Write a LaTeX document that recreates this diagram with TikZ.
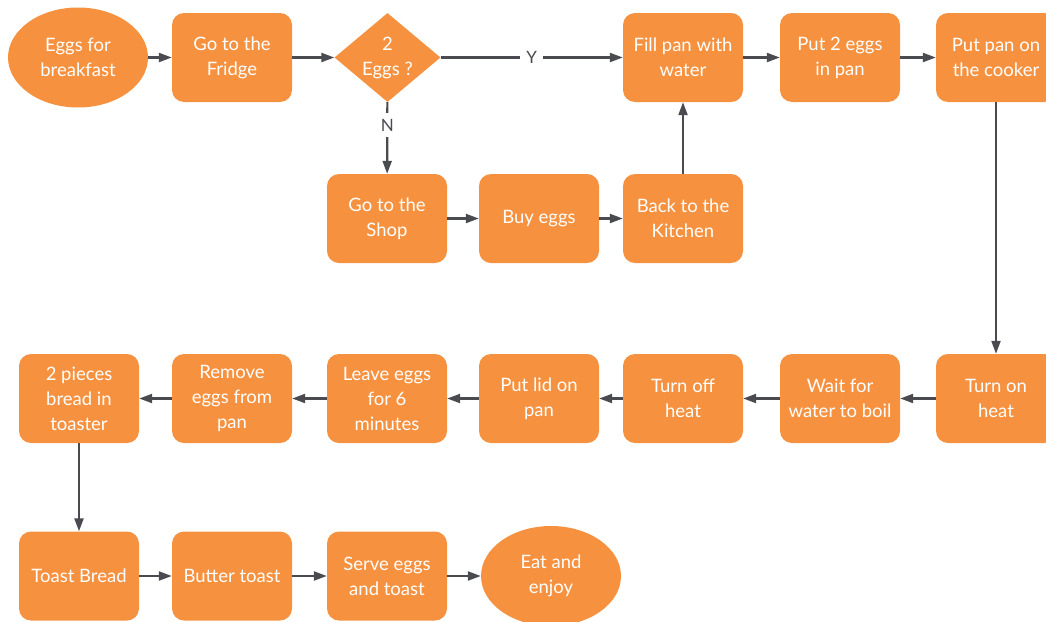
\documentclass[tikz,border=0pt]{standalone}
\usepackage{fontspec}
\setmainfont{Lato}
\usetikzlibrary{shapes.geometric,arrows.meta}
\definecolor{eggorange}{HTML}{F6913F}
\definecolor{linegrey}{HTML}{4A4B50}

\begin{document}
\begin{tikzpicture}[x=1pt,y=-1pt,
	box/.style={rectangle,rounded corners=12pt,fill=eggorange,minimum width=120pt,minimum height=89pt,inner sep=0pt,text=white,align=center,font=\fontsize{18.5}{25}\selectfont},
	terminal/.style={ellipse,fill=eggorange,minimum width=140pt,minimum height=100pt,inner sep=0pt,text=white,align=center,font=\fontsize{18.5}{25}\selectfont},
	decision/.style={diamond,fill=eggorange,minimum width=106pt,minimum height=89pt,inner sep=-8pt,text=white,align=center,font=\fontsize{18.5}{25}\selectfont},
	flow/.style={draw=linegrey,line width=2.2pt,-{Triangle[length=13pt,width=9pt]}},
	answer/.style={fill=white,text=linegrey,inner sep=6pt,font=\fontsize{17}{20}\selectfont}]
	\useasboundingbox (0,0) rectangle (1046,621);
	\node [terminal] (start) at (78,57.5) {Eggs for\\breakfast};
	\node [box] (fridge) at (232,57.5) {Go to the\\Fridge};
	\node [decision] (twoEggs) at (387.5,57.5) {2\\Eggs ?};
	\node [box] (fillPan) at (683,57.5) {Fill pan with\\water};
	\node [box] (putEggs) at (840,57.5) {Put 2 eggs\\in pan};
	\node [box] (putPan) at (996,57.5) {Put pan on\\the cooker};
	\node [box] (shop) at (387,218.5) {Go to the\\Shop};
	\node [box] (buyEggs) at (539,218.5) {Buy eggs};
	\node [box] (kitchen) at (683,218.5) {Back to the\\Kitchen};
	\node [box] (turnOn) at (996,398.5) {Turn on\\heat};
	\node [box] (waitBoil) at (840,398.5) {Wait for\\water to boil};
	\node [box] (turnOff) at (683,398.5) {Turn off\\heat};
	\node [box] (putLid) at (539,398.5) {Put lid on\\pan};
	\node [box] (leaveEggs) at (387,398.5) {Leave eggs\\for 6\\minutes};
	\node [box] (removeEggs) at (232,398.5) {Remove\\eggs from\\pan};
	\node [box] (bread) at (79,398.5) {2 pieces\\bread in\\toaster};
	\node [box] (toast) at (79,576) {Toast Bread};
	\node [box] (butter) at (232,576) {Butter toast};
	\node [box] (serve) at (387,576) {Serve eggs\\and toast};
	\node [terminal] (enjoy) at (551,576) {Eat and\\enjoy};

	\draw [flow] (start) -- (fridge);
	\draw [flow] (fridge) -- (twoEggs);
	\draw [flow] (twoEggs) -- node [answer] (yes) {Y} (fillPan);
	\draw [flow] (twoEggs) -- node [answer,pos=0.32] (no) {N} (shop);
	\draw [flow] (shop) -- (buyEggs);
	\draw [flow] (buyEggs) -- (kitchen);
	\draw [flow] (kitchen) -- (fillPan);
	\draw [flow] (fillPan) -- (putEggs);
	\draw [flow] (putEggs) -- (putPan);
	\draw [flow] (putPan) -- (turnOn);
	\draw [flow] (turnOn) -- (waitBoil);
	\draw [flow] (waitBoil) -- (turnOff);
	\draw [flow] (turnOff) -- (putLid);
	\draw [flow] (putLid) -- (leaveEggs);
	\draw [flow] (leaveEggs) -- (removeEggs);
	\draw [flow] (removeEggs) -- (bread);
	\draw [flow] (bread) -- (toast);
	\draw [flow] (toast) -- (butter);
	\draw [flow] (butter) -- (serve);
	\draw [flow] (serve) -- (enjoy);
\end{tikzpicture}
\end{document}
